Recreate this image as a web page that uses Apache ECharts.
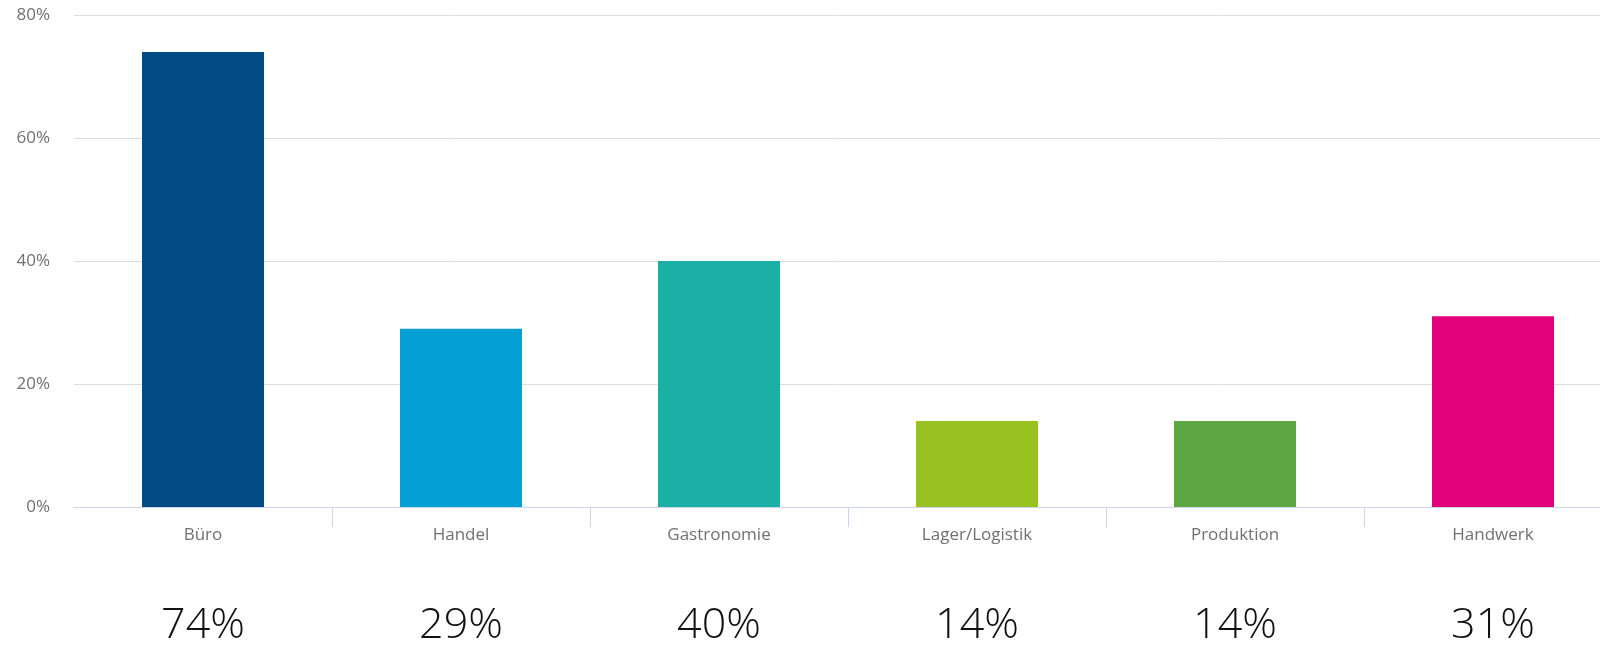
<!DOCTYPE html>
<html>
<head>
<meta charset="utf-8">
<script src="https://cdn.jsdelivr.net/npm/echarts@6/dist/echarts.min.js"></script>
<style>
html,body{margin:0;padding:0;background:#fff;}
#chart{width:1600px;height:646px;}
</style>
</head>
<body>
<div id="chart"></div>
<script>
const categories = ['Büro', 'Handel', 'Gastronomie', 'Lager/Logistik', 'Produktion', 'Handwerk'];
const values = [74, 29, 40, 14, 14, 31];
const barColors = ['#014B85', '#02A0D3', '#1AB0A5', '#97C21F', '#5DA843', '#E3007B'];
const yTicks = { min: 0, max: 80, interval: 20 };

const chart = echarts.init(document.getElementById('chart'), null, { renderer: 'canvas' });
chart.setOption({
  animation: false,
  backgroundColor: '#ffffff',
  grid: { left: 74, width: 1548, top: 15, height: 492, containLabel: false, outerBoundsMode: 'none' },
  xAxis: [
    {
      type: 'category',
      data: categories,
      position: 'bottom',
      axisLine: { show: true, lineStyle: { color: '#ccd6eb', width: 1 } },
      axisTick: { show: true, length: 20, lineStyle: { color: '#ccd6eb' }, interval: function (i) { return i !== 0; } },
      axisLabel: { color: '#707070', fontFamily: 'Open Sans', fontSize: 17, margin: 20 }
    },
    {
      type: 'category',
      data: values.map(v => v + '%'),
      position: 'bottom',
      offset: 0,
      axisLine: { show: false },
      axisTick: { show: false },
      axisLabel: { color: '#111111', fontFamily: 'Open Sans', fontWeight: 300, fontSize: 43, margin: 97 }
    }
  ],
  yAxis: {
    type: 'value',
    min: yTicks.min,
    max: yTicks.max,
    interval: yTicks.interval,
    axisLine: { show: false },
    axisTick: { show: false },
    axisLabel: { formatter: '{value}%', color: '#707070', fontFamily: 'Open Sans', fontSize: 17, margin: 24 },
    splitLine: { lineStyle: { color: '#dcdcdc', width: 1 } }
  },
  series: [{
    type: 'bar',
    xAxisIndex: 0,
    data: values.map((v, i) => ({ value: v, itemStyle: { color: barColors[i] } })),
    barWidth: 122
  }]
});
</script>
</body>
</html>
